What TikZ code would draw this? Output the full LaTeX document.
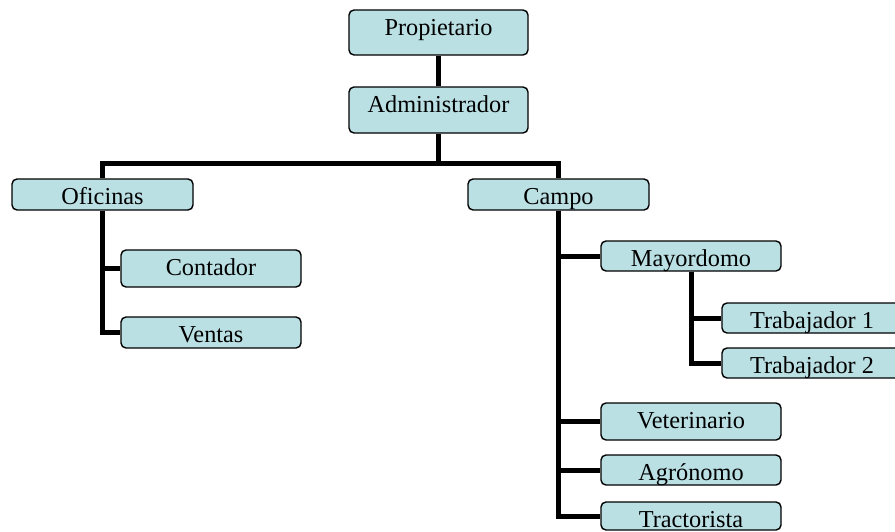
\documentclass[tikz,border=0pt]{standalone}
\usepackage{fontspec}
\setmainfont{Liberation Serif}
\usetikzlibrary{backgrounds}
\definecolor{boxfill}{RGB}{186,224,228}
\tikzset{
  box/.style={draw=black, line width=1.4pt, fill=boxfill, rounded corners=5pt,
    inner sep=0pt, align=center, text height=25pt,
    font=\fontsize{24.3}{25}\selectfont},
  conn/.style={draw=black, line width=5pt, line join=miter},
}
\begin{document}
\begin{tikzpicture}[x=1pt,y=-1pt]
\useasboundingbox (0,0) rectangle (895,531);
% boxes: center (x,y), width; height = 25pt + text depth
\node[box, minimum width=179pt, text depth=20pt] (prop) at (438.5,32.5) {Propietario};
\node[box, minimum width=179pt, text depth=21pt] (admin) at (438.5,110) {Administrador};
\node[box, minimum width=181pt, text depth=6pt] (ofi) at (102.5,194.5) {Oficinas};
\node[box, minimum width=181pt, text depth=6pt] (campo) at (558.5,194.5) {Campo};
\node[box, minimum width=180pt, text depth=12pt] (cont) at (211,268.5) {Contador};
\node[box, minimum width=180pt, text depth=6pt] (vent) at (211,332.5) {Ventas};
\node[box, minimum width=180pt, text depth=5pt] (may) at (691,256) {Mayordomo};
\node[box, minimum width=180pt, text depth=5pt] (t1) at (812,318) {Trabajador 1};
\node[box, minimum width=180pt, text depth=5pt] (t2) at (812,363) {Trabajador 2};
\node[box, minimum width=180pt, text depth=12pt] (vet) at (691,421.5) {Veterinario};
\node[box, minimum width=180pt, text depth=5pt] (agr) at (691,470) {Agrónomo};
\node[box, minimum width=180pt, text depth=3pt] (trac) at (691,516) {Tractorista};
\begin{scope}[on background layer]
\draw[conn] (prop.south) -- (admin.north);
\draw[conn] (admin.south) -- ++(0,30) -| (ofi.north);
\draw[conn] (admin.south) -- ++(0,30) -| (campo.north);
\draw[conn] (ofi.south) |- (cont.west);
\draw[conn] (ofi.south) |- (vent.west);
\draw[conn] (campo.south) |- (may.west);
\draw[conn] (campo.south) |- (vet.west);
\draw[conn] (campo.south) |- (agr.west);
\draw[conn] (campo.south) |- (trac.west);
\draw[conn] (may.south) |- (t1.west);
\draw[conn] (may.south) |- (t2.west);
\end{scope}
\end{tikzpicture}
\end{document}
